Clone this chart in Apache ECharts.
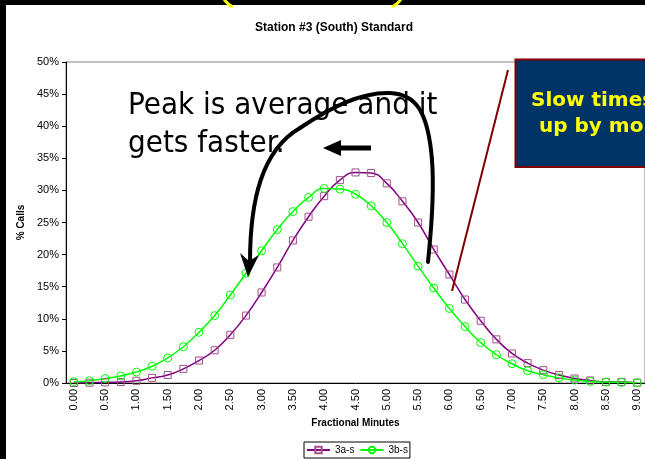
<!DOCTYPE html>
<html>
<head>
<meta charset="utf-8">
<script src="https://cdn.jsdelivr.net/npm/echarts@6/dist/echarts.min.js"></script>
<style>
  html, body { margin: 0; padding: 0; background: #000; }
  #chart { width: 645px; height: 459px; }
</style>
</head>
<body>
<div id="chart"></div>
<script>
// minutes, every quarter
var minutes = ['0.00', '0.25', '0.50', '0.75', '1.00', '1.25', '1.50', '1.75', '2.00', '2.25',
  '2.50', '2.75', '3.00', '3.25', '3.50', '3.75', '4.00', '4.25', '4.50', '4.75',
  '5.00', '5.25', '5.50', '5.75', '6.00', '6.25', '6.50', '6.75', '7.00', '7.25',
  '7.50', '7.75', '8.00', '8.25', '8.50', '8.75', '9.00'];

// % calls
var calls3a = [0.0, 0.05, 0.1, 0.15, 0.35, 0.8, 1.25, 2.2, 3.5, 5.1,
  7.5, 10.5, 14.1, 18.0, 22.2, 25.9, 29.1, 31.6, 32.8, 32.7,
  31.1, 28.3, 25.0, 20.8, 16.9, 13.0, 9.7, 6.8, 4.6, 3.1,
  2.0, 1.25, 0.7, 0.4, 0.15, 0.15, 0.05];
var calls3b = [0.2, 0.36, 0.7, 1.1, 1.7, 2.6, 3.9, 5.65, 7.9, 10.5,
  13.7, 17.1, 20.6, 23.9, 26.7, 28.9, 30.3, 30.2, 29.4, 27.6,
  25.0, 21.7, 18.2, 14.8, 11.6, 8.8, 6.3, 4.4, 3.0, 1.9,
  1.3, 0.8, 0.45, 0.25, 0.15, 0.1, 0.05];

var chart = echarts.init(document.getElementById('chart'));

function curve(x1, y1, cx1, cy1, cx2, cy2, x2, y2, color, w) {
  return {
    type: 'bezierCurve', z: 100,
    shape: { x1: x1, y1: y1, cpx1: cx1, cpy1: cy1, cpx2: cx2, cpy2: cy2, x2: x2, y2: y2 },
    style: { fill: null, stroke: color, lineWidth: w, lineCap: 'round' }
  };
}

var option = {
  backgroundColor: '#fff',
  animation: false,
  textStyle: { fontFamily: 'Liberation Sans, Arial, sans-serif', color: '#000' },
  title: {
    text: 'Station #3 (South) Standard',
    left: 250,
    top: 17,
    textStyle: { fontSize: 12, fontWeight: 'bold', color: '#000' }
  },
  legend: {
    left: 304,
    top: 442,
    padding: [3, 2, 3, 2],
    itemWidth: 23,
    itemHeight: 8,
    itemGap: 5,
    borderColor: '#000',
    borderWidth: 1,
    textStyle: { fontSize: 10, color: '#000' },
    data: ['3a-s', '3b-s']
  },
  grid: {
    left: 66,
    top: 62,
    width: 581,
    height: 321,
    show: true,
    borderColor: '#808080',
    borderWidth: 1,
    backgroundColor: 'transparent'
  },
  xAxis: {
    type: 'category',
    data: minutes,
    boundaryGap: true,
    name: 'Fractional Minutes',
    nameLocation: 'middle',
    nameGap: 33,
    nameTextStyle: { fontSize: 10, fontWeight: 'bold', color: '#000' },
    axisLine: { lineStyle: { color: '#000', width: 1 } },
    axisTick: { interval: 0, length: 4, lineStyle: { color: '#000' } },
    axisLabel: { interval: 1, rotate: 90, fontSize: 11, margin: 6, color: '#000' },
    splitLine: { show: false }
  },
  yAxis: {
    type: 'value',
    min: 0,
    max: 50,
    interval: 5,
    name: '% Calls',
    nameLocation: 'middle',
    nameRotate: 90,
    nameGap: 36,
    nameTextStyle: { fontSize: 10, fontWeight: 'bold', color: '#000' },
    axisLine: { show: true, lineStyle: { color: '#000', width: 1 } },
    axisTick: { show: true, length: 4, lineStyle: { color: '#000' } },
    axisLabel: { formatter: '{value}%', fontSize: 11, margin: 7, color: '#000' },
    splitLine: { show: false }
  },
  series: [
    {
      name: '3a-s',
      type: 'line',
      data: calls3a,
      smooth: true,
      symbol: 'rect',
      symbolSize: 7,
      lineStyle: { color: '#800080', width: 1.5 },
      itemStyle: { color: 'rgba(0,0,0,0)', borderColor: '#a0508a', borderWidth: 1 }
    },
    {
      name: '3b-s',
      type: 'line',
      data: calls3b,
      smooth: true,
      symbol: 'circle',
      symbolSize: 8,
      lineStyle: { color: '#00ff00', width: 1.5 },
      itemStyle: { color: 'rgba(0,0,0,0)', borderColor: '#00ff00', borderWidth: 1 }
    }
  ],
  graphic: [
    // slide frame
    { type: 'rect', z: 100, shape: { x: 0, y: 0, width: 645, height: 5 }, style: { fill: '#000' } },
    { type: 'rect', z: 100, shape: { x: 0, y: 0, width: 6, height: 459 }, style: { fill: '#000' } },
    { type: 'bezierCurve', z: 101, shape: { x1: 224, y1: -1, cpx1: 227, cpy1: 4, x2: 233, y2: 7 },
      style: { fill: null, stroke: '#ffff00', lineWidth: 3 } },
    { type: 'bezierCurve', z: 101, shape: { x1: 401, y1: -1, cpx1: 398, cpy1: 4, x2: 392, y2: 7 },
      style: { fill: null, stroke: '#ffff00', lineWidth: 3 } },
    // callout text
    { type: 'text', z: 100, x: 128, y: 106, scaleX: 0.9,
      style: { text: 'Peak is average and it', font: '31px "DejaVu Sans"', fill: '#000', verticalAlign: 'middle' } },
    { type: 'text', z: 100, x: 128, y: 144, scaleX: 0.9,
      style: { text: 'gets faster.', font: '31px "DejaVu Sans"', fill: '#000', verticalAlign: 'middle' } },
    // loop arrow
    curve(250, 262, 250, 200, 262, 150, 300, 128, '#000', 4),
    curve(300, 128, 330, 108, 360, 92, 390, 93, '#000', 4),
    curve(390, 93, 415, 94, 428, 110, 432, 160, '#000', 4),
    curve(432, 160, 435, 200, 430, 240, 428, 262, '#000', 4),
    { type: 'polygon', z: 100, shape: { points: [[240, 253], [249, 261], [259, 255], [248, 277]] }, style: { fill: '#000' } },
    // small arrow
    { type: 'line', z: 100, shape: { x1: 337, y1: 148, x2: 371, y2: 148 }, style: { stroke: '#000', lineWidth: 5 } },
    { type: 'polygon', z: 100, shape: { points: [[323, 148], [341, 140], [341, 156]] }, style: { fill: '#000' } },
    // pointer line
    { type: 'line', z: 100, shape: { x1: 508, y1: 70, x2: 452, y2: 291 }, style: { stroke: '#800000', lineWidth: 2 } },
    // blue box
    { type: 'rect', z: 100, shape: { x: 515.5, y: 59.5, width: 150, height: 107.5 },
      style: { fill: '#003366', stroke: '#800000', lineWidth: 2 } },
    { type: 'text', z: 101, x: 531, y: 101,
      style: { text: 'Slow times', font: 'bold 20px "DejaVu Sans"', fill: '#ffff00', verticalAlign: 'middle' } },
    { type: 'text', z: 101, x: 539, y: 127,
      style: { text: 'up by more', font: 'bold 20px "DejaVu Sans"', fill: '#ffff00', verticalAlign: 'middle' } }
  ]
};

chart.setOption(option);
</script>
</body>
</html>
